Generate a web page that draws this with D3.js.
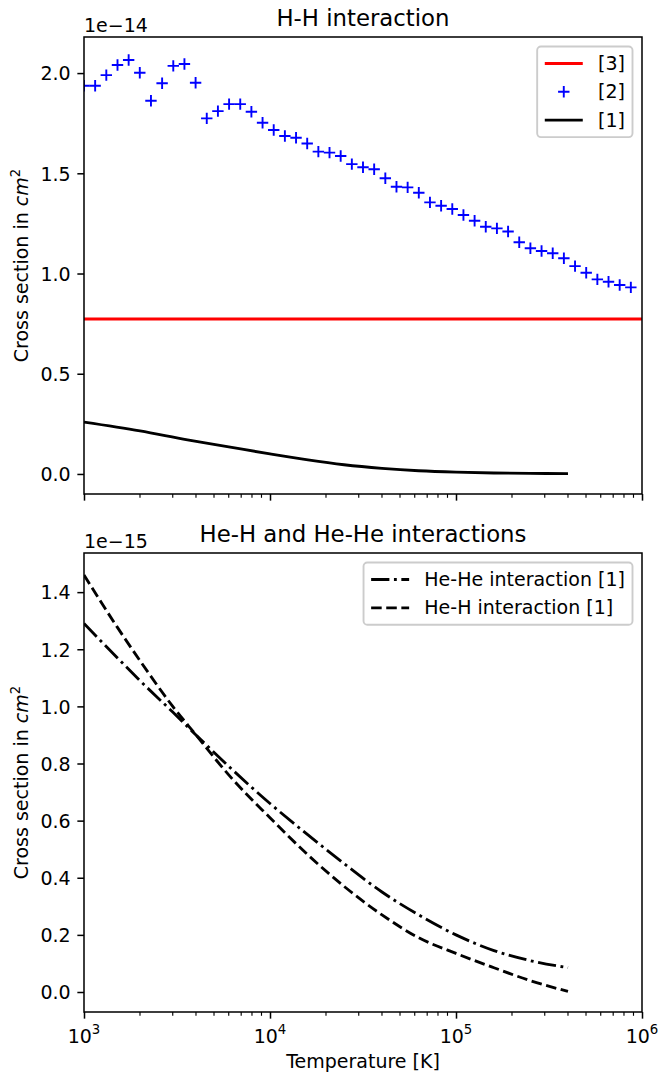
<!DOCTYPE html>
<html>
<head>
<meta charset="utf-8">
<script src="https://cdn.jsdelivr.net/npm/d3@7"></script>
<style>
  body { margin: 0; background: #fff; }
  svg { display: block; }
  text { font-family: "DejaVu Sans", sans-serif; fill: #000; }
</style>
</head>
<body>
<svg id="fig" width="659" height="1076"></svg>
<script>
// ---- H-H interaction ----
// Tabulated temperatures [K] of the cross sections from source [2]
const hhTemps2 = [1000, 1148, 1318, 1514, 1738, 1995, 2291, 2630, 3020, 3467,
  3981, 4571, 5248, 6026, 6918, 7943, 9120, 10471, 12023, 13804,
  15849, 18197, 20893, 23988, 27542, 31623, 36308, 41687, 47863, 54954,
  63096, 72444, 83176, 95499, 109648, 125893, 144544, 165959, 190546, 218776,
  251189, 288403, 331131, 380189, 436516, 501187, 575440, 660693, 758578, 870964];
// Cross sections from [2], in units of 1e-14 cm^2
const hhSigma2 = [1.937, 1.937, 1.990, 2.040, 2.065, 2.002, 1.862, 1.949, 2.036, 2.045,
  1.952, 1.774, 1.810, 1.845, 1.845, 1.807, 1.752, 1.716, 1.686, 1.677,
  1.649, 1.608, 1.603, 1.586, 1.546, 1.530, 1.520, 1.475, 1.433, 1.430,
  1.403, 1.355, 1.338, 1.322, 1.292, 1.263, 1.233, 1.225, 1.210, 1.156,
  1.126, 1.112, 1.101, 1.076, 1.037, 1.004, 0.971, 0.959, 0.943, 0.931];
// Constant cross section from [3], units of 1e-14 cm^2
const hhSigma3 = 0.773;
// Curve from [1], units of 1e-14 cm^2
const hhTemps1 = [1000, 2000, 3600, 6000, 10000, 16000, 25000, 40000, 63000, 100000, 160000, 250000, 400000];
const hhSigma1 = [0.259, 0.215, 0.170, 0.135, 0.100, 0.070, 0.046, 0.028, 0.016, 0.009, 0.005, 0.003, 0.002];

// ---- He-H and He-He interactions from [1], units of 1e-15 cm^2 ----
const heTemps = [1000, 1500, 2000, 3000, 4000, 6000, 10000, 16000, 25000, 40000, 63000, 100000, 160000, 250000, 400000];
const heHeSigma = [1.290, 1.172, 1.090, 0.980, 0.900, 0.790, 0.660, 0.550, 0.450, 0.350, 0.270, 0.200, 0.145, 0.110, 0.085];
const heHSigma = [1.460, 1.280, 1.160, 1.000, 0.900, 0.760, 0.610, 0.480, 0.370, 0.270, 0.190, 0.135, 0.085, 0.040, 0.002];

// ---- Axis ticks ----
const xMajorTicks = [1e3, 1e4, 1e5, 1e6];
const xTickExponents = ["3", "4", "5", "6"];
const hhYTicks = [0.0, 0.5, 1.0, 1.5, 2.0];
const heYTicks = [0.0, 0.2, 0.4, 0.6, 0.8, 1.0, 1.2, 1.4];

const PT = 1.9;          // pixels per point
const FS = 19;           // 10pt text
const TITLE_FS = 22.8;   // 12pt text
const LW = 1.5 * PT;

const svg = d3.select("#fig");
const defs = svg.append("defs");
const x = d3.scaleLog().domain([1e3, 1e6]).range([84, 642]);
const [X0, X1] = x.range();

function drawPanel(p) {
  const y = d3.scaleLinear().domain(p.yDomain).range([p.bottom, p.top]);
  const g = svg.append("g");
  defs.append("clipPath").attr("id", p.id + "-clip").append("rect")
    .attr("x", X0).attr("y", p.top).attr("width", X1 - X0).attr("height", p.bottom - p.top);
  const plot = g.append("g").attr("clip-path", `url(#${p.id}-clip)`);

  // y axis
  const ya = g.append("g").attr("transform", `translate(${X0},0)`)
    .call(d3.axisLeft(y).tickValues(p.yTicks).tickFormat(d3.format(".1f"))
      .tickSize(3.5 * PT).tickPadding(3.5 * PT));
  ya.attr("font-size", null).attr("font-family", null);
  ya.select(".domain").remove();
  ya.selectAll(".tick line").attr("stroke", "#000").attr("stroke-width", 0.8 * PT);
  ya.selectAll(".tick text").attr("font-size", FS).attr("dy", "0.36em").attr("fill", "#000");

  // x axis: major and minor ticks
  const xa = g.append("g").attr("transform", `translate(0,${p.bottom})`)
    .call(d3.axisBottom(x).tickValues(xMajorTicks).tickFormat(() => "")
      .tickSize(3.5 * PT).tickPadding(3.5 * PT));
  xa.attr("font-size", null).attr("font-family", null);
  xa.select(".domain").remove();
  xa.selectAll(".tick line").attr("stroke", "#000").attr("stroke-width", 0.8 * PT);
  xa.selectAll(".tick text").remove();
  const minor = x.ticks().filter(t => Math.abs(Math.log10(t) - Math.round(Math.log10(t))) > 1e-9);
  g.append("g").selectAll("line").data(minor).join("line")
    .attr("x1", d => x(d)).attr("x2", d => x(d))
    .attr("y1", p.bottom).attr("y2", p.bottom + 2 * PT)
    .attr("stroke", "#000").attr("stroke-width", 0.6 * PT);

  if (p.xLabels) {
    xMajorTicks.forEach((t, i) => {
      const tx = g.append("text").attr("x", x(t)).attr("y", p.bottom + 31)
        .attr("text-anchor", "middle").attr("font-size", FS);
      tx.append("tspan").text("10");
      tx.append("tspan").attr("font-size", FS * 0.7).attr("dy", -0.45 * FS).text(xTickExponents[i]);
    });
    g.append("text").attr("x", (X0 + X1) / 2).attr("y", p.bottom + 56)
      .attr("text-anchor", "middle").attr("font-size", FS).text("Temperature [K]");
  }

  // y label
  const yl = g.append("text")
    .attr("transform", `translate(28,${(p.top + p.bottom) / 2}) rotate(-90)`)
    .attr("text-anchor", "middle").attr("font-size", FS);
  yl.append("tspan").text("Cross section in ");
  yl.append("tspan").attr("font-style", "italic").text("cm");
  yl.append("tspan").attr("font-size", FS * 0.7).attr("dy", -0.4 * FS).text("2");

  // title and offset text
  g.append("text").attr("x", (X0 + X1) / 2).attr("y", p.top - 6 * PT)
    .attr("text-anchor", "middle").attr("font-size", TITLE_FS).text(p.title);
  g.append("text").attr("x", X0).attr("y", p.top - 5.5)
    .attr("font-size", FS).text(p.offset);

  return { g, plot, y };
}

function drawLine(plot, xs, ys, y, style) {
  const pts = xs.map((t, i) => [x(t), y(ys[i])]);
  plot.append("path").attr("d", d3.line().curve(d3.curveMonotoneX)(pts))
    .attr("fill", "none").attr("stroke", style.color).attr("stroke-width", LW)
    .attr("stroke-linejoin", "round")
    .attr("stroke-dasharray", style.dash ? style.dash.join(",") : null);
}

function plusPath(s) {
  const h = s / 2;
  return `M${-h},0H${h}M0,${-h}V${h}`;
}

function drawLegend(entries, right, topY) {
  const pad = 0.4 * FS, hl = 2 * FS, htp = 0.8 * FS, ls = 0.5 * FS, rowH = 18.8;
  const lg = svg.append("g");
  const box = lg.append("rect");
  const texts = entries.map(e => lg.append("text").attr("font-size", FS).text(e.label));
  const tw = d3.max(texts, t => t.node().getComputedTextLength());
  const w = 2 * pad + hl + htp + tw;
  const h = 2 * pad + entries.length * rowH + (entries.length - 1) * ls;
  const left = right - w;
  box.attr("x", left).attr("y", topY).attr("width", w).attr("height", h)
    .attr("rx", 0.2 * FS).attr("fill", "#fff").attr("fill-opacity", 0.8)
    .attr("stroke", "#cccccc").attr("stroke-width", PT);
  entries.forEach((e, i) => {
    const cy = topY + pad + rowH / 2 + i * (rowH + ls);
    const hx = left + pad;
    if (e.marker) {
      lg.append("path").attr("d", plusPath(6 * PT))
        .attr("transform", `translate(${hx + hl / 2},${cy})`)
        .attr("stroke", e.color).attr("stroke-width", PT).attr("fill", "none");
    } else {
      lg.append("line").attr("x1", hx).attr("x2", hx + hl).attr("y1", cy).attr("y2", cy)
        .attr("stroke", e.color).attr("stroke-width", LW)
        .attr("stroke-dasharray", e.dash ? e.dash.join(",") : null);
    }
    texts[i].attr("x", hx + hl + htp).attr("y", cy + 6.5);
  });
}

const dashed = [3.7, 1.6].map(v => v * 1.5 * PT);
const dashDot = [6.4, 1.6, 1, 1.6].map(v => v * 1.5 * PT);

// Top panel: H-H interaction
const hhPanel = drawPanel({
  id: "hh", top: 37, bottom: 494, yDomain: [-0.10, 2.18], yTicks: hhYTicks,
  title: "H-H interaction", offset: "1e\u221214", xLabels: false
});
drawLine(hhPanel.plot, [1e3, 1e6], [hhSigma3, hhSigma3], hhPanel.y, { color: "#ff0000" });
hhPanel.plot.append("g").selectAll("path").data(hhTemps2).join("path")
  .attr("d", plusPath(6 * PT))
  .attr("transform", (t, i) => `translate(${x(t)},${hhPanel.y(hhSigma2[i])})`)
  .attr("stroke", "#0000ff").attr("stroke-width", PT).attr("fill", "none");
drawLine(hhPanel.plot, hhTemps1, hhSigma1, hhPanel.y, { color: "#000" });
hhPanel.g.append("rect").attr("x", X0).attr("y", 37).attr("width", X1 - X0).attr("height", 494 - 37)
  .attr("fill", "none").attr("stroke", "#000").attr("stroke-width", 0.8 * PT);
drawLegend([
  { label: "[3]", color: "#ff0000" },
  { label: "[2]", color: "#0000ff", marker: true },
  { label: "[1]", color: "#000" }
], X1 - 0.5 * FS, 37 + 0.5 * FS);

// Bottom panel: He-H and He-He interactions
const hePanel = drawPanel({
  id: "he", top: 553, bottom: 1012, yDomain: [-0.07, 1.537], yTicks: heYTicks,
  title: "He-H and He-He interactions", offset: "1e\u221215", xLabels: true
});
drawLine(hePanel.plot, heTemps, heHeSigma, hePanel.y, { color: "#000", dash: dashDot });
drawLine(hePanel.plot, heTemps, heHSigma, hePanel.y, { color: "#000", dash: dashed });
hePanel.g.append("rect").attr("x", X0).attr("y", 553).attr("width", X1 - X0).attr("height", 1012 - 553)
  .attr("fill", "none").attr("stroke", "#000").attr("stroke-width", 0.8 * PT);
drawLegend([
  { label: "He-He interaction [1]", color: "#000", dash: dashDot },
  { label: "He-H interaction [1]", color: "#000", dash: dashed }
], X1 - 0.5 * FS, 553 + 0.5 * FS);
</script>
</body>
</html>
